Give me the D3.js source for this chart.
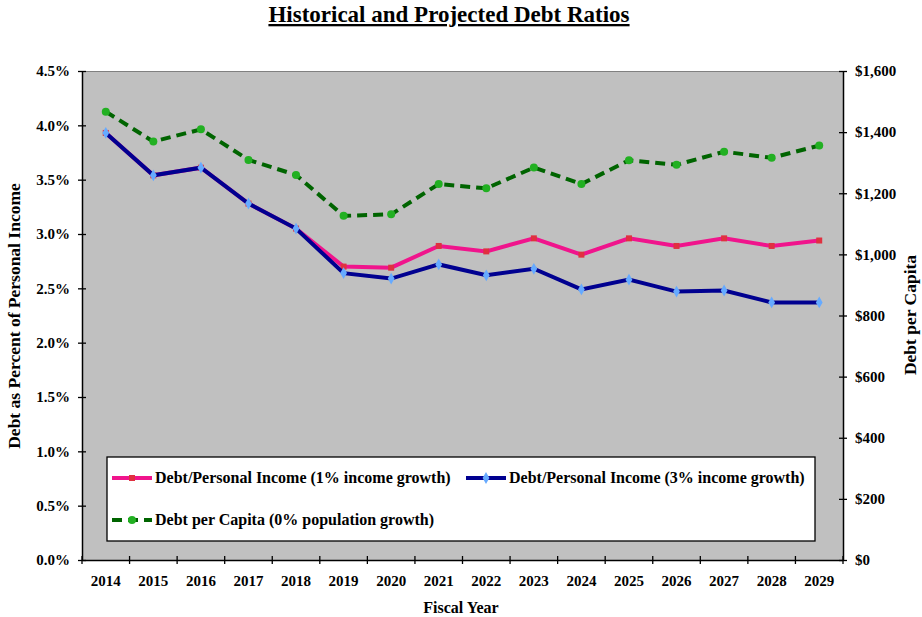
<!DOCTYPE html>
<html><head><meta charset="utf-8">
<script src="https://cdn.jsdelivr.net/npm/d3@7"></script>
<style>
body{margin:0;background:#fff;}
svg text{font-family:"Liberation Serif","Times New Roman",serif;font-weight:bold;fill:#000;}
</style></head>
<body><svg id="c" width="922" height="617"></svg>
<script>
const years = ["2014","2015","2016","2017","2018","2019","2020","2021","2022","2023","2024","2025","2026","2027","2028","2029"];
const income1 = [3.93,3.54,3.61,3.28,3.05,2.70,2.69,2.89,2.84,2.96,2.81,2.96,2.89,2.96,2.89,2.94];
const income3 = [3.93,3.54,3.61,3.28,3.05,2.64,2.59,2.72,2.62,2.68,2.49,2.58,2.47,2.48,2.37,2.37];
const perCapita = [1467,1369,1409,1309,1260,1126,1131,1230,1216,1284,1230,1308,1293,1336,1316,1356];
const leftTicks = [0,0.5,1,1.5,2,2.5,3,3.5,4,4.5];
const rightTicks = [0,200,400,600,800,1000,1200,1400,1600];
const legendLabels = ["Debt/Personal Income (1% income growth)","Debt/Personal Income (3% income growth)","Debt per Capita (0% population growth)"];

const svg = d3.select("#c");
const L=82, R=843, T=71, B=560;
const x = d3.scaleBand().domain(years).range([L,R]);
const yL = d3.scaleLinear().domain([0,4.5]).range([B,T]);
const yR = d3.scaleLinear().domain([0,1600]).range([B,T]);

svg.append("rect").attr("x",L).attr("y",T).attr("width",R-L).attr("height",B-T).attr("fill","#C0C0C0");
svg.append("line").attr("x1",L).attr("x2",R).attr("y1",T+0.5).attr("y2",T+0.5).attr("stroke","#808080");

const fmtL = d=>d.toFixed(1)+"%";
const fmtR = d=>"$"+d3.format(",")(d);

const axL = svg.append("g").attr("transform",`translate(${L},0)`).call(d3.axisLeft(yL).tickValues(leftTicks).tickFormat(fmtL).tickSizeInner(4).tickSizeOuter(0).tickPadding(8));
const axR = svg.append("g").attr("transform",`translate(${R},0)`).call(d3.axisRight(yR).tickValues(rightTicks).tickFormat(fmtR).tickSizeInner(4).tickSizeOuter(0).tickPadding(8));
const axB = svg.append("g").attr("transform",`translate(0,${B})`).call(d3.axisBottom(x).tickSize(0).tickPadding(15));
[axL,axR].forEach(a=>{
  a.selectAll(".tick line").attr("x1",-4).attr("x2",4).attr("stroke","#000").attr("stroke-width",1.3);
  a.select(".domain").attr("stroke","#000").attr("stroke-width",1.5);
  a.selectAll("text").style("font-size","15px").attr("font-family",null);
});
axB.select(".domain").attr("stroke","#000").attr("stroke-width",1.5);
axB.selectAll("text").style("font-size","15px").attr("font-family",null);
const bounds = years.map(y=>x(y)).concat([R]);
axB.selectAll(".btick").data(bounds).enter().append("line").attr("class","btick")
  .attr("x1",d=>d).attr("x2",d=>d).attr("y1",-4).attr("y2",4).attr("stroke","#000").attr("stroke-width",1.3);

const cx = d=>x(d)+x.bandwidth()/2;
const lineL = d3.line().x((d,i)=>cx(years[i])).y(d=>yL(d));
const lineR = d3.line().x((d,i)=>cx(years[i])).y(d=>yR(d));

const pink="#F0148C", navy="#000090", dgreen="#006400";

svg.append("path").datum(income1).attr("d",lineL).attr("fill","none").attr("stroke",pink).attr("stroke-width",4);
svg.selectAll(".sq").data(income1).enter().append("rect").attr("class","sq")
  .attr("x",(d,i)=>cx(years[i])-3).attr("y",d=>yL(d)-3).attr("width",6).attr("height",6).attr("fill","#E03040");

svg.append("path").datum(income3).attr("d",lineL).attr("fill","none").attr("stroke",navy).attr("stroke-width",4);
const diamond = d3.symbol().type(d3.symbolDiamond).size(40);
svg.selectAll(".dm").data(income3).enter().append("path").attr("class","dm")
  .attr("d",diamond).attr("transform",(d,i)=>`translate(${cx(years[i])},${yL(d)})`).attr("fill","#66AAFF");

svg.append("path").datum(perCapita).attr("d",lineR).attr("fill","none").attr("stroke",dgreen).attr("stroke-width",4).attr("stroke-dasharray","10,6");
svg.selectAll(".ci").data(perCapita).enter().append("circle").attr("class","ci")
  .attr("cx",(d,i)=>cx(years[i])).attr("cy",d=>yR(d)).attr("r",4).attr("fill","#22B022");

// Legend
const lg = svg.append("g");
lg.append("rect").attr("x",107).attr("y",457).attr("width",708).attr("height",84).attr("fill","#fff").attr("stroke","#000").attr("stroke-width",1.3);
function item(x0,y0,color,dash,marker,label){
  lg.append("line").attr("x1",x0).attr("x2",x0+40).attr("y1",y0).attr("y2",y0).attr("stroke",color).attr("stroke-width",4).attr("stroke-dasharray",dash||null);
  const mx=x0+20;
  if(marker==="sq") lg.append("rect").attr("x",mx-3).attr("y",y0-3).attr("width",6).attr("height",6).attr("fill","#E03040");
  if(marker==="dm") lg.append("path").attr("d",diamond).attr("transform",`translate(${mx},${y0})`).attr("fill","#66AAFF");
  if(marker==="ci") lg.append("circle").attr("cx",mx).attr("cy",y0).attr("r",4).attr("fill","#22B022");
  lg.append("text").attr("x",x0+43).attr("y",y0+5).style("font-size","16px").text(label);
}
item(112,478,pink,null,"sq",legendLabels[0]);
item(466,478,navy,null,"dm",legendLabels[1]);
item(112,520,dgreen,"10,6","ci",legendLabels[2]);

// Titles
svg.append("text").attr("x",449).attr("y",22).attr("text-anchor","middle").style("font-size","23px").style("text-decoration","underline").text("Historical and Projected Debt Ratios");
svg.append("text").attr("x",461).attr("y",613).attr("text-anchor","middle").style("font-size","16px").text("Fiscal Year");
svg.append("text").attr("transform",`translate(20,316) rotate(-90)`).attr("text-anchor","middle").style("font-size","17.5px").text("Debt as Percent of Personal Income");
svg.append("text").attr("transform",`translate(916,315) rotate(-90)`).attr("text-anchor","middle").style("font-size","17.5px").text("Debt per Capita");
</script></body></html>
